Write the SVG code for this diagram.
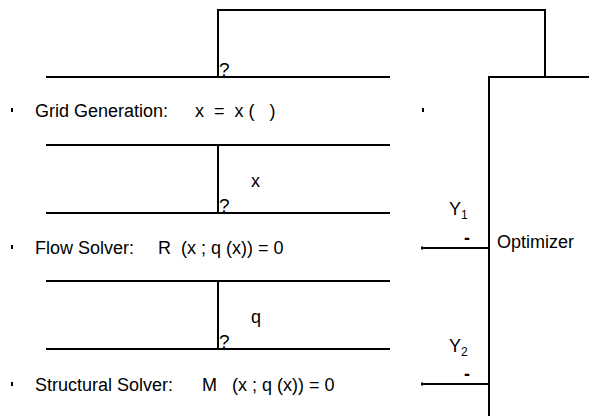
<svg xmlns="http://www.w3.org/2000/svg" width="589" height="416" viewBox="0 0 589 416">
<style>
.ln{stroke:#000;stroke-width:2;fill:none;stroke-linecap:butt}
.t{font-family:"Liberation Sans",Arial,sans-serif;font-size:18px;fill:#000}
.q{font-family:"Liberation Sans",Arial,sans-serif;font-size:19px;fill:#000}
.d{font-weight:bold}
.s{font-size:12px}
</style>
<rect width="589" height="416" fill="#fff"/>
<g id="connectors">
<polyline class="ln" points="218,77 218,10 545,10 545,77"/>
<line class="ln" x1="218" y1="145" x2="218" y2="213"/>
<line class="ln" x1="218" y1="281" x2="218" y2="349"/>
<line class="ln" x1="422" y1="248" x2="489" y2="248"/>
<line class="ln" x1="422" y1="384" x2="489" y2="384"/>
<rect x="421" y="246.5" width="2" height="3" fill="#000"/>
<rect x="421" y="382.5" width="2" height="3" fill="#000"/>
<text class="q" x="219" y="76">?</text>
<text class="q" x="219" y="212">?</text>
<text class="q" x="219" y="348">?</text>
<text class="t" x="251" y="187">x</text>
<text class="t" x="251" y="323">q</text>
<text class="t" x="449" y="215">Y<tspan class="s" dy="4">1</tspan></text>
<text class="t" x="449" y="352">Y<tspan class="s" dy="4">2</tspan></text>
<text class="t d" x="464" y="244">-</text>
<text class="t d" x="464" y="380">-</text>
</g>
<g id="grid-generation">
<line class="ln" x1="46" y1="77" x2="390" y2="77"/>
<line class="ln" x1="46" y1="145" x2="390" y2="145"/>
<rect x="11" y="108" width="2" height="4" fill="#000"/>
<text class="t" x="35" y="117">Grid Generation:</text>
<text class="t" x="195" y="117" xml:space="preserve">x  =  x (   )</text>
<rect x="422" y="108" width="2" height="4" fill="#000"/>
</g>
<g id="flow-solver">
<line class="ln" x1="46" y1="213" x2="390" y2="213"/>
<rect x="11" y="245" width="2" height="4" fill="#000"/>
<text class="t" x="35" y="254">Flow Solver:</text>
<text class="t" x="158" y="254" xml:space="preserve">R  (x ; q (x)) = 0</text>
</g>
<g id="structural-solver">
<line class="ln" x1="46" y1="281" x2="390" y2="281"/>
<line class="ln" x1="46" y1="349" x2="390" y2="349"/>
<rect x="11" y="382" width="2" height="4" fill="#000"/>
<text class="t" x="35" y="391">Structural Solver:</text>
<text class="t" x="202" y="391" xml:space="preserve">M   (x ; q (x)) = 0</text>
</g>
<g id="optimizer">
<polyline class="ln" points="489,416 489,77 589,77"/>
<text class="t" x="497" y="248">Optimizer</text>
</g>
</svg>
